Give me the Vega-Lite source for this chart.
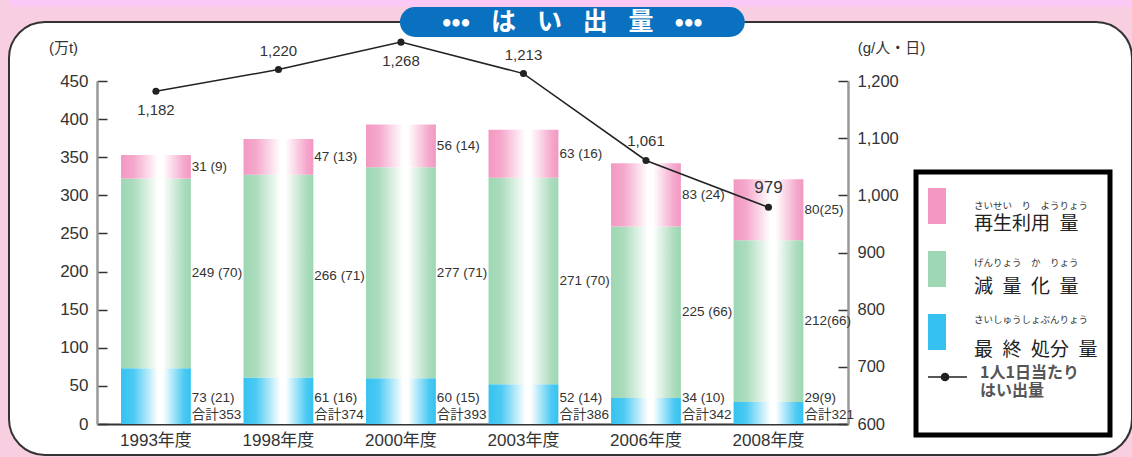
{
  "$schema": "https://vega.github.io/schema/vega-lite/v6.json",
  "width": 1123,
  "height": 433,
  "autosize": {"type": "none"},
  "padding": {"left": 9, "top": 22, "right": 0, "bottom": 2},
  "background": "#f7cfe0",
  "config": {
    "view": {"fill": "#ffffff", "stroke": "#333333", "strokeWidth": 2, "cornerRadius": 36},
    "font": "Liberation Sans, Noto Sans CJK JP, sans-serif",
    "axis": {"grid": false, "labelColor": "#333333", "titleColor": "#333333"}
  },
  "datasets": {
    "bars": [
      {"year": "1993年度", "cat": "最終処分量", "ruby": "さいしゅうしょぶんりょう", "value": 73, "label": "73 (21)"},
      {"year": "1993年度", "cat": "減量化量", "ruby": "げんりょう　か　りょう", "value": 249, "label": "249 (70)"},
      {"year": "1993年度", "cat": "再生利用量", "ruby": "さいせい　り　ようりょう", "value": 31, "label": "31 (9)"},
      {"year": "1998年度", "cat": "最終処分量", "ruby": "さいしゅうしょぶんりょう", "value": 61, "label": "61 (16)"},
      {"year": "1998年度", "cat": "減量化量", "ruby": "げんりょう　か　りょう", "value": 266, "label": "266 (71)"},
      {"year": "1998年度", "cat": "再生利用量", "ruby": "さいせい　り　ようりょう", "value": 47, "label": "47 (13)"},
      {"year": "2000年度", "cat": "最終処分量", "ruby": "さいしゅうしょぶんりょう", "value": 60, "label": "60 (15)"},
      {"year": "2000年度", "cat": "減量化量", "ruby": "げんりょう　か　りょう", "value": 277, "label": "277 (71)"},
      {"year": "2000年度", "cat": "再生利用量", "ruby": "さいせい　り　ようりょう", "value": 56, "label": "56 (14)"},
      {"year": "2003年度", "cat": "最終処分量", "ruby": "さいしゅうしょぶんりょう", "value": 52, "label": "52 (14)"},
      {"year": "2003年度", "cat": "減量化量", "ruby": "げんりょう　か　りょう", "value": 271, "label": "271 (70)"},
      {"year": "2003年度", "cat": "再生利用量", "ruby": "さいせい　り　ようりょう", "value": 63, "label": "63 (16)"},
      {"year": "2006年度", "cat": "最終処分量", "ruby": "さいしゅうしょぶんりょう", "value": 34, "label": "34 (10)"},
      {"year": "2006年度", "cat": "減量化量", "ruby": "げんりょう　か　りょう", "value": 225, "label": "225 (66)"},
      {"year": "2006年度", "cat": "再生利用量", "ruby": "さいせい　り　ようりょう", "value": 83, "label": "83 (24)"},
      {"year": "2008年度", "cat": "最終処分量", "ruby": "さいしゅうしょぶんりょう", "value": 29, "label": "29(9)"},
      {"year": "2008年度", "cat": "減量化量", "ruby": "げんりょう　か　りょう", "value": 212, "label": "212(66)"},
      {"year": "2008年度", "cat": "再生利用量", "ruby": "さいせい　り　ようりょう", "value": 80, "label": "80(25)"}
    ],
    "totals": [
      {"year": "1993年度", "total": 353},
      {"year": "1998年度", "total": 374},
      {"year": "2000年度", "total": 393},
      {"year": "2003年度", "total": 386},
      {"year": "2006年度", "total": 342},
      {"year": "2008年度", "total": 321}
    ],
    "percap": [
      {"year": "1993年度", "pc": 1182},
      {"year": "1998年度", "pc": 1220},
      {"year": "2000年度", "pc": 1268},
      {"year": "2003年度", "pc": 1213},
      {"year": "2006年度", "pc": 1061},
      {"year": "2008年度", "pc": 979}
    ]
  },
  "resolve": {"scale": {"y": "independent"}},
  "layer": [
    {
      "layer": [
        {
          "data": {"values": [{}]},
          "mark": {"type": "rect", "color": "#fbc9f6"},
          "encoding": {
            "y": {"datum": 556.5},
            "y2": {"datum": 547.3}
          }
        },
        {
          "data": {"name": "bars"},
          "transform": [
            {"stack": "value", "groupby": ["year"], "as": ["y0", "y1"]},
            {"calculate": "(datum.y0 + datum.y1) / 2", "as": "mid"}
          ],
          "layer": [
            {
              "transform": [{"filter": "datum.cat === '最終処分量'"}],
              "mark": {"type": "bar", "color": {"gradient": "linear", "x1": 0, "y1": 0, "x2": 1, "y2": 0, "stops": [{"offset": 0, "color": "#36c2f0"}, {"offset": 0.18, "color": "#4ccaf3"}, {"offset": 0.53, "color": "#ffffff"}, {"offset": 0.6, "color": "#ffffff"}, {"offset": 0.9, "color": "#4ccaf3"}, {"offset": 1, "color": "#36c2f0"}]}},
              "encoding": {
                "x": {
                  "field": "year", "type": "nominal",
                  "scale": {"domain": ["1993年度", "1998年度", "2000年度", "2003年度", "2006年度", "2008年度"], "range": [88, 839], "paddingInner": 0.43, "paddingOuter": 0.28, "align": 0.35},
                  "axis": {"orient": "bottom", "offset": -31, "title": null, "ticks": false, "domainColor": "#333333", "domainWidth": 2, "labelAngle": 0, "labelPadding": 8, "labelFontSize": 17, "labelColor": "#333333"}
                },
                "y": {
                  "field": "y0", "type": "quantitative",
                  "scale": {"domain": [0, 450], "range": [402, 59], "nice": false, "zero": false},
                  "axis": {"orient": "left", "offset": -88, "values": [0, 50, 100, 150, 200, 250, 300, 350, 400, 450], "format": "d", "tickSize": -10, "tickColor": "#333333", "tickWidth": 1.5, "domainColor": "#999999", "domainWidth": 2.5, "labelPadding": 19, "labelFontSize": 17, "labelColor": "#333333", "title": "(万t)", "titleAngle": 0, "titleX": -34, "titleY": 25, "titleAlign": "center", "titleBaseline": "middle", "titleFontSize": 15, "titleFontWeight": "normal"}
                },
                "y2": {"field": "y1"}
              }
            },
            {
              "transform": [{"filter": "datum.cat === '減量化量'"}],
              "mark": {"type": "bar", "color": {"gradient": "linear", "x1": 0, "y1": 0, "x2": 1, "y2": 0, "stops": [{"offset": 0, "color": "#9dd7b3"}, {"offset": 0.18, "color": "#abdcbd"}, {"offset": 0.53, "color": "#ffffff"}, {"offset": 0.6, "color": "#ffffff"}, {"offset": 0.9, "color": "#abdcbd"}, {"offset": 1, "color": "#9dd7b3"}]}},
              "encoding": {
                "x": {"field": "year", "type": "nominal"},
                "y": {"field": "y0", "type": "quantitative"},
                "y2": {"field": "y1"}
              }
            },
            {
              "transform": [{"filter": "datum.cat === '再生利用量'"}],
              "mark": {"type": "bar", "color": {"gradient": "linear", "x1": 0, "y1": 0, "x2": 1, "y2": 0, "stops": [{"offset": 0, "color": "#f298c2"}, {"offset": 0.18, "color": "#f5a8cc"}, {"offset": 0.53, "color": "#ffffff"}, {"offset": 0.6, "color": "#ffffff"}, {"offset": 0.9, "color": "#f5a8cc"}, {"offset": 1, "color": "#f298c2"}]}},
              "encoding": {
                "x": {"field": "year", "type": "nominal"},
                "y": {"field": "y0", "type": "quantitative"},
                "y2": {"field": "y1"}
              }
            },
            {
              "mark": {"type": "point", "opacity": 0, "filled": true},
              "encoding": {
                "x": {"field": "year", "type": "nominal"},
                "y": {"field": "y1", "type": "quantitative"},
                "color": {
                  "field": "cat", "type": "nominal",
                  "scale": {"domain": ["再生利用量", "減量化量", "最終処分量", "1人1日当たりはい出量"], "range": ["#f298c2", "#9dd7b3", "#36c2f0", "#ffffff"]},
                  "legend": {
                    "orient": "none", "legendX": 907, "legendY": 150, "title": null, "zindex": 0,
                    "padding": 12, "rowPadding": 13, "clipHeight": 44, "symbolSize": 1296, "symbolStrokeWidth": 0,
                    "symbolType": "M-1.2,-1H0V1H-1.2Z",
                    "labelOffset": 10, "labelFont": "Noto Sans CJK JP", "labelFontSize": 19, "labelColor": "#222222", "labelLimit": 300,
                    "strokeColor": "#000000",
                    "labelExpr": "datum.value === '再生利用量' ? '再生利用\u2002量' : datum.value === '減量化量' ? '減\u2002量\u2002化\u2002量' : datum.value === '最終処分量' ? '最\u2002終\u2002処分\u2002量' : ''",
                    "encode": {
                      "legend": {"update": {"stroke": {"value": "#000000"}, "strokeWidth": {"value": 5}}},
                      "symbols": {"update": {
                        "fill": {"condition": [
                          {"test": "datum.index === 0", "value": {"gradient": "linear", "x1": 0, "y1": 0, "x2": 1, "y2": 0, "stops": [{"offset": 0, "color": "#f298c2"}, {"offset": 0.2, "color": "#f5a8cc"}, {"offset": 0.55, "color": "#ffffff"}, {"offset": 0.62, "color": "#ffffff"}, {"offset": 0.9, "color": "#f5a8cc"}, {"offset": 1, "color": "#f298c2"}]}},
                          {"test": "datum.index === 1", "value": {"gradient": "linear", "x1": 0, "y1": 0, "x2": 1, "y2": 0, "stops": [{"offset": 0, "color": "#9dd7b3"}, {"offset": 0.2, "color": "#abdcbd"}, {"offset": 0.55, "color": "#ffffff"}, {"offset": 0.62, "color": "#ffffff"}, {"offset": 0.9, "color": "#abdcbd"}, {"offset": 1, "color": "#9dd7b3"}]}},
                          {"test": "datum.index === 2", "value": {"gradient": "linear", "x1": 0, "y1": 0, "x2": 1, "y2": 0, "stops": [{"offset": 0, "color": "#36c2f0"}, {"offset": 0.2, "color": "#4ccaf3"}, {"offset": 0.55, "color": "#ffffff"}, {"offset": 0.62, "color": "#ffffff"}, {"offset": 0.9, "color": "#4ccaf3"}, {"offset": 1, "color": "#36c2f0"}]}}
                        ], "value": "transparent"},
                        "opacity": {"value": 1}
                      }},
                      "labels": {"update": {"dy": {"value": 18}}}
                    }
                  }
                },
                "shape": {
                  "field": "ruby", "type": "nominal",
                  "scale": {"domain": ["さいせい　り　ようりょう", "げんりょう　か　りょう", "さいしゅうしょぶんりょう"]},
                  "legend": {
                    "orient": "none", "legendX": 907, "legendY": 150, "title": null, "zindex": 1,
                    "padding": 12, "rowPadding": 13, "clipHeight": 44, "symbolSize": 1296, "symbolStrokeWidth": 0, "symbolOpacity": 0,
                    "labelOffset": 10, "labelFont": "Noto Sans CJK JP", "labelFontSize": 9.5, "labelColor": "#333333", "labelLimit": 300,
                    "encode": {
                      "symbols": {"update": {"opacity": {"value": 0}}},
                      "labels": {"update": {"dy": {"value": -14}}}
                    }
                  }
                }
              }
            },
            {
              "transform": [{"filter": "datum.cat !== '最終処分量'"}],
              "mark": {"type": "text", "align": "left", "baseline": "middle", "dx": 1, "fontSize": 13.5, "color": "#333333"},
              "encoding": {
                "x": {"field": "year", "type": "nominal", "bandPosition": 1},
                "y": {"field": "mid", "type": "quantitative"},
                "text": {"field": "label"}
              }
            },
            {
              "transform": [{"filter": "datum.cat === '最終処分量'"}],
              "mark": {"type": "text", "align": "left", "baseline": "bottom", "dx": 1, "dy": -19, "fontSize": 13.5, "color": "#333333"},
              "encoding": {
                "x": {"field": "year", "type": "nominal", "bandPosition": 1},
                "y": {"datum": 0},
                "text": {"field": "label"}
              }
            }
          ]
        },
        {
          "data": {"name": "totals"},
          "transform": [{"calculate": "'合計' + datum.total", "as": "t"}],
          "mark": {"type": "text", "align": "left", "baseline": "bottom", "dx": 1, "dy": -2, "fontSize": 13.5, "color": "#333333"},
          "encoding": {
            "x": {"field": "year", "type": "nominal", "bandPosition": 1},
            "y": {"datum": 0},
            "text": {"field": "t"}
          }
        },
        {
          "data": {"values": [{}]},
          "mark": {"type": "rule", "color": "#0a70c0", "strokeWidth": 30, "strokeCap": "round"},
          "encoding": {
            "x": {"datum": "2000年度", "bandPosition": 0.7},
            "x2": {"datum": "2006年度", "bandPosition": 1.7},
            "y": {"datum": 527.4}
          }
        },
        {
          "data": {"values": [{}]},
          "mark": {"type": "text", "text": "•••\u2002\u2004は\u2002\u2004い\u2002\u2004出\u2002\u2004量\u2002\u2004•••", "font": "Noto Sans CJK JP", "fontWeight": "bold", "fontSize": 25, "color": "#ffffff", "align": "center", "baseline": "middle"},
          "encoding": {
            "x": {"datum": "2003年度", "bandPosition": 1.2},
            "y": {"datum": 527.4}
          }
        }
      ]
    },
    {
      "data": {"name": "percap"},
      "layer": [
        {
          "mark": {"type": "line", "strokeWidth": 1.5},
          "encoding": {
            "x": {"field": "year", "type": "nominal"},
            "y": {
              "field": "pc", "type": "quantitative",
              "scale": {"domain": [600, 1200], "range": [402, 59], "nice": false, "zero": false},
              "axis": {"orient": "right", "offset": -284, "values": [600, 700, 800, 900, 1000, 1100, 1200], "format": ",d", "tickSize": -10, "tickColor": "#333333", "tickWidth": 1.5, "domainColor": "#999999", "domainWidth": 2.5, "labelPadding": 19, "labelFontSize": 16.5, "labelColor": "#333333", "title": "(g/人・日)", "titleAngle": 0, "titleX": 43, "titleY": 25, "titleAlign": "center", "titleBaseline": "middle", "titleFontSize": 15, "titleFontWeight": "normal"}
            },
            "stroke": {
              "datum": "1人1日当たりはい出量",
              "scale": {"range": ["#222222"]},
              "legend": {
                "orient": "none", "legendX": 907, "legendY": 321, "title": null, "zindex": 2,
                "padding": 12, "clipHeight": 44, "symbolSize": 1296, "symbolStrokeWidth": 1.5,
                "symbolType": "M-1.17,0H1.11M0.09,0A0.2,0.2,0,1,1,-0.31,0A0.2,0.2,0,1,1,0.09,0",
                "symbolFillColor": "#222222", "symbolStrokeColor": "#222222",
                "labelOffset": 14, "labelFont": "Noto Sans CJK JP", "labelFontSize": 16, "labelFontWeight": "bold", "labelColor": "#555555", "labelLimit": 300,
                "labelExpr": "['1人1日当たり', 'はい出量']",
                "encode": {"labels": {"update": {"dy": {"value": -4}}}}
              }
            }
          }
        },
        {
          "mark": {"type": "point", "filled": true, "size": 50, "color": "#222222", "opacity": 1},
          "encoding": {
            "x": {"field": "year", "type": "nominal"},
            "y": {"field": "pc", "type": "quantitative"}
          }
        },
        {
          "transform": [{"filter": "datum.year !== '1993年度' && datum.year !== '2000年度'"}],
          "mark": {"type": "text", "align": "center", "baseline": "middle", "dy": -19, "color": "#333333"},
          "encoding": {
            "x": {"field": "year", "type": "nominal"},
            "y": {"field": "pc", "type": "quantitative"},
            "text": {"field": "pc", "type": "quantitative", "format": ","},
            "size": {"condition": {"test": "datum.pc === 979", "value": 17}, "value": 15}
          }
        },
        {
          "transform": [{"filter": "datum.year === '1993年度' || datum.year === '2000年度'"}],
          "mark": {"type": "text", "align": "center", "baseline": "middle", "dy": 19, "fontSize": 15, "color": "#333333"},
          "encoding": {
            "x": {"field": "year", "type": "nominal"},
            "y": {"field": "pc", "type": "quantitative"},
            "text": {"field": "pc", "type": "quantitative", "format": ","}
          }
        }
      ]
    }
  ]
}
